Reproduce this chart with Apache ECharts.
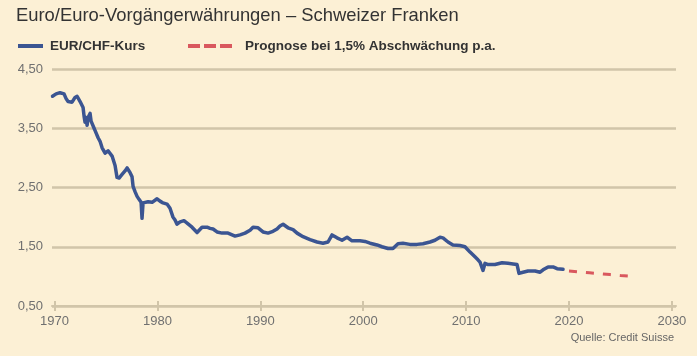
<!DOCTYPE html>
<html>
<head>
<meta charset="utf-8">
<script src="https://cdn.jsdelivr.net/npm/echarts@6/dist/echarts.min.js"></script>
<style>
html,body{margin:0;padding:0;background:#FCF0D5;}
#c{width:697px;height:356px;}
</style>
</head>
<body>
<div id="c"></div>
<script>
// EUR/CHF (Euro / Euro-Vorgängerwährungen) – decimal years and rates
const kursYears = [1969.8,1970.15,1970.53,1970.92,1971.12,1971.31,1971.7,1971.99,1972.19,1972.48,1972.77,1972.87,1972.96,1973.06,1973.16,1973.26,1973.45,1973.55,1973.64,1973.84,1973.94,1974.23,1974.42,1974.62,1974.91,1975.2,1975.39,1975.59,1975.88,1976.07,1976.27,1976.56,1976.85,1977.05,1977.34,1977.53,1977.63,1977.82,1978.02,1978.21,1978.41,1978.5,1978.6,1979.09,1979.48,1979.96,1980.25,1980.54,1980.93,1981.22,1981.51,1981.71,1981.9,1982.2,1982.58,1982.88,1983.36,1983.85,1984.33,1984.82,1985.11,1985.4,1985.79,1986.28,1986.86,1987.54,1988.03,1988.51,1989.0,1989.29,1989.78,1990.26,1990.75,1991.23,1991.62,1991.91,1992.21,1992.69,1993.18,1993.57,1994.15,1994.83,1995.51,1996.09,1996.58,1996.97,1997.45,1997.94,1998.43,1998.91,1999.69,2000.17,2000.66,2001.34,2001.82,2002.41,2002.89,2003.38,2003.86,2004.54,2005.22,2005.81,2006.49,2006.97,2007.46,2007.75,2008.24,2008.72,2009.4,2009.89,2010.38,2010.86,2011.15,2011.35,2011.64,2011.84,2012.13,2012.81,2013.49,2014.07,2014.56,2014.95,2015.14,2015.53,2016.02,2016.7,2017.19,2017.48,2017.97,2018.45,2018.84,2019.42];
const kursValues = [4.04,4.08,4.10,4.08,4.00,3.95,3.94,4.02,4.04,3.95,3.85,3.70,3.60,3.68,3.55,3.68,3.75,3.62,3.60,3.50,3.46,3.34,3.28,3.17,3.08,3.12,3.10,3.03,2.87,2.67,2.66,2.72,2.78,2.83,2.75,2.68,2.52,2.43,2.35,2.30,2.25,1.98,2.24,2.26,2.25,2.31,2.27,2.24,2.22,2.15,2.00,1.95,1.88,1.92,1.94,1.90,1.83,1.74,1.83,1.83,1.81,1.80,1.75,1.73,1.73,1.68,1.70,1.73,1.78,1.83,1.82,1.75,1.73,1.76,1.80,1.85,1.88,1.82,1.79,1.73,1.67,1.62,1.58,1.56,1.58,1.70,1.65,1.61,1.66,1.60,1.60,1.59,1.56,1.53,1.50,1.47,1.47,1.55,1.56,1.54,1.54,1.55,1.58,1.61,1.66,1.65,1.58,1.53,1.52,1.50,1.41,1.33,1.28,1.24,1.10,1.22,1.20,1.20,1.23,1.22,1.21,1.20,1.05,1.07,1.09,1.09,1.07,1.11,1.16,1.16,1.13,1.12];
// Prognose bei 1,5 % Abschwächung p.a.
const prognoseYears = [2020.0,2021.0,2022.0,2023.0,2024.0,2025.0,2026.15];
const prognoseValues = [1.09,1.075,1.06,1.045,1.03,1.015,1.0];
const xTicks = [1970,1980,1990,2000,2010,2020,2030];
const yMin = 0.5, yMax = 4.5, yStep = 1;

const zip = (a,b) => a.map((v,i)=>[v,b[i]]);
const gridCol = '#D1C5A9';
const labelCol = '#707070';
const blue = '#3B5592';
const red = '#D9585E';

const chart = echarts.init(document.getElementById('c'));
chart.setOption({
  backgroundColor: '#FCF0D5',
  animation: false,
  grid: {left: 52, right: 21, top: 69, bottom: 50},
  xAxis: [{
    type: 'value', min: 1969.75, max: 2030.4,
    axisLine: {show: true, lineStyle: {color: gridCol, width: 2}},
    axisTick: {show: true, length: 5, lineStyle: {color: gridCol, width: 2}, customValues: xTicks},
    axisLabel: {customValues: xTicks, formatter: v => String(v), color: labelCol, fontSize: 13, fontFamily: 'Liberation Sans', margin: 9},
    splitLine: {show: false}
  },{
    type: 'value', min: 1969.75, max: 2030.4, position: 'bottom',
    axisLine: {show: false},
    axisTick: {show: true, inside: true, length: 5, lineStyle: {color: gridCol, width: 2}, customValues: xTicks},
    axisLabel: {show: false},
    splitLine: {show: false}
  }],
  yAxis: {
    type: 'value', min: yMin, max: yMax, interval: yStep,
    axisLine: {show: false}, axisTick: {show: false},
    axisLabel: {formatter: v => v.toFixed(2).replace('.', ','), color: labelCol, fontSize: 13, fontFamily: 'Liberation Sans', margin: 9},
    splitLine: {lineStyle: {color: gridCol, width: 2.5}}
  },
  series: [{
    type: 'line', data: zip(kursYears, kursValues), showSymbol: false,
    lineStyle: {color: blue, width: 3.5, join: 'round', cap: 'round'}, z: 3
  },{
    type: 'line', data: zip(prognoseYears, prognoseValues), showSymbol: false,
    lineStyle: {color: red, width: 3, type: [8, 9]}, z: 3
  }],
  graphic: [
    {type: 'text', left: 16, top: 7, style: {text: 'Euro/Euro-Vorgängerwährungen – Schweizer Franken', fill: '#333', font: '18.4px "Liberation Sans"'}},
    {type: 'line', shape: {x1: 18, y1: 46, x2: 43, y2: 46}, style: {stroke: blue, lineWidth: 4}},
    {type: 'text', left: 50, top: 39, style: {text: 'EUR/CHF-Kurs', fill: '#333', font: 'bold 13.5px "Liberation Sans"'}},
    {type: 'line', shape: {x1: 188, y1: 46, x2: 233, y2: 46}, style: {stroke: red, lineWidth: 4, lineDash: [12, 4]}},
    {type: 'text', left: 245, top: 39, style: {text: 'Prognose bei 1,5% Abschwächung p.a.', fill: '#333', font: 'bold 13.5px "Liberation Sans"'}},
    {type: 'text', right: 23, top: 332, style: {text: 'Quelle: Credit Suisse', fill: '#666', font: '11px "Liberation Sans"'}}
  ]
});
</script>
</body>
</html>
